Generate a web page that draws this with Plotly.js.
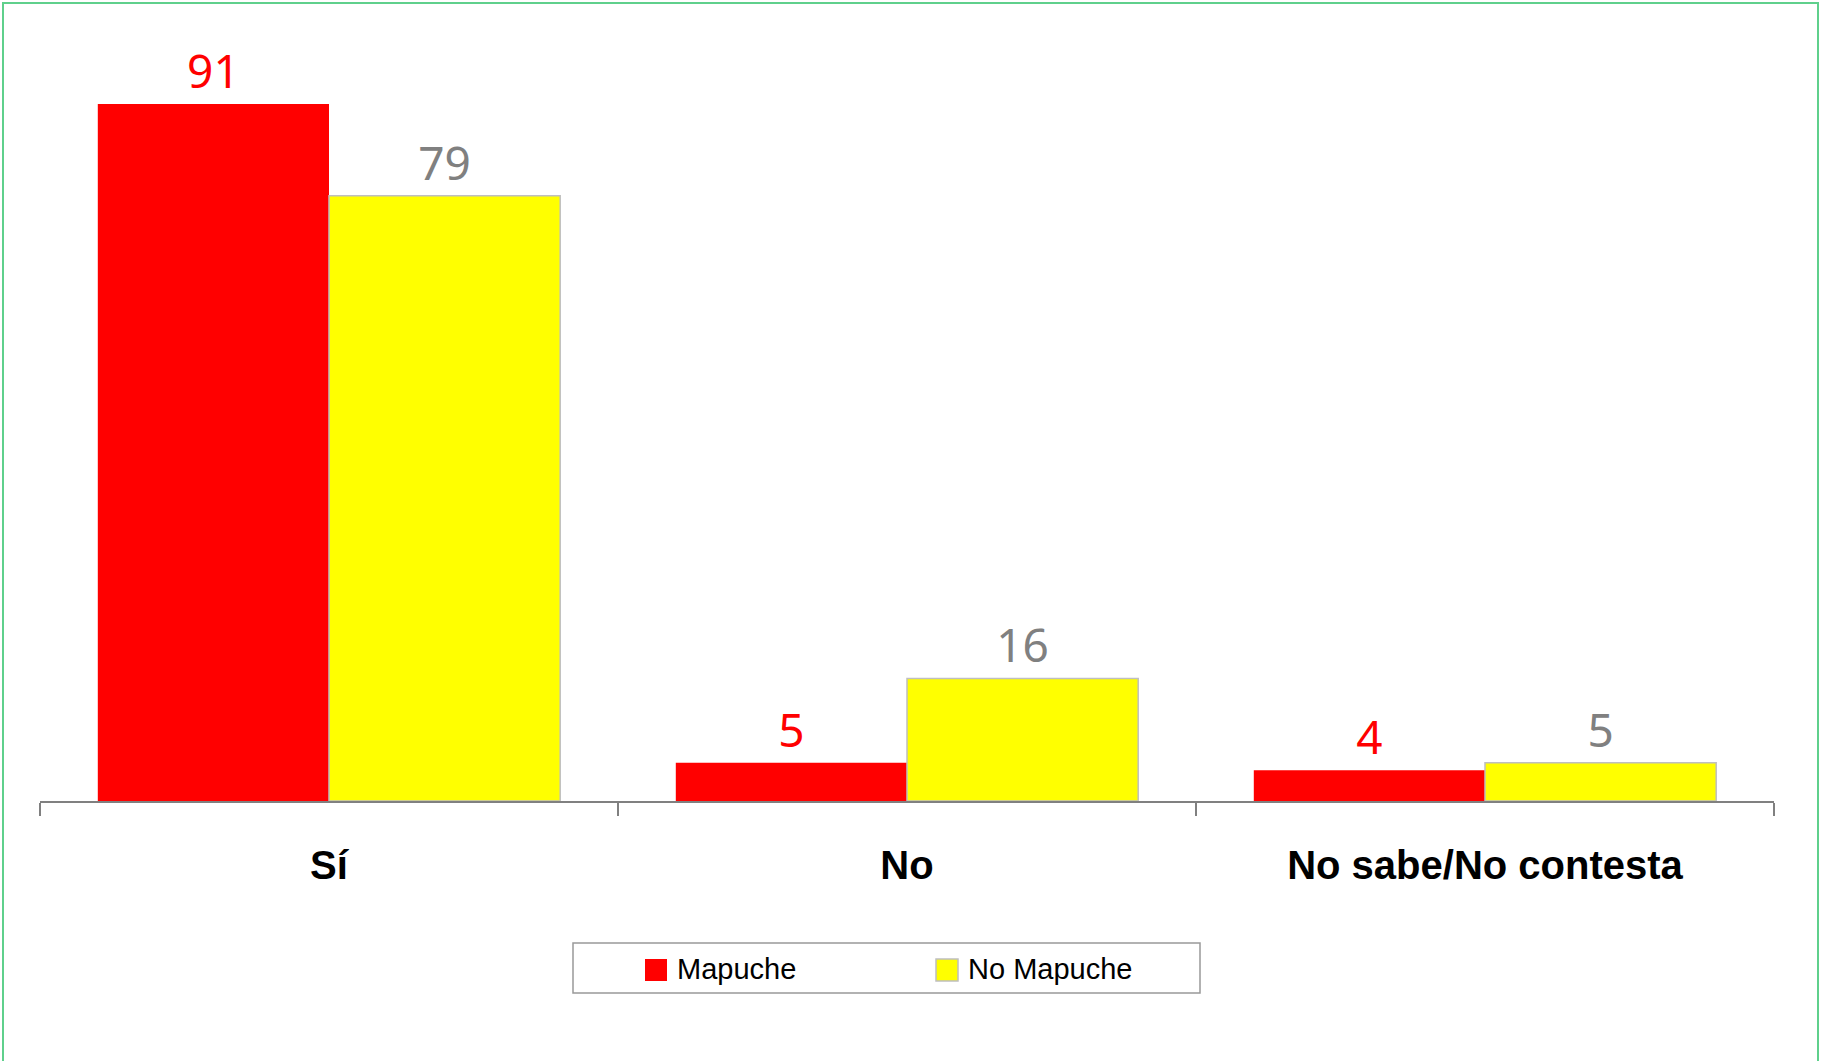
<!DOCTYPE html>
<html>
<head>
<meta charset="utf-8">
<script src="https://cdn.plot.ly/plotly-3.0.1.min.js"></script>
<style>
  html, body { margin: 0; padding: 0; background: #ffffff; }
  #chart { width: 1823px; height: 1061px; }
</style>
</head>
<body>
<div id="chart"></div>
<script>
const categories = ["Sí", "No", "No sabe/No contesta"];
const seriesNames = ["Mapuche", "No Mapuche"];
const mapucheValues = [91, 5, 4];
const noMapucheValues = [79, 16, 5];

const W = 1823, H = 1061;
const margin = {l: 40, r: 49, t: 35, b: 260};
const pw = W - margin.l - margin.r;
const ph = H - margin.t - margin.b;
const px2x = p => (p - margin.l) / pw;
const px2y = p => (H - margin.b - p) / ph;

const seriesColors = ["#ff0000", "#ffff00"];
const seriesLines = ["rgba(0,0,0,0)", "#bfbfbf"];
const labelColors = ["#ff0000", "#808080"];
const seriesValues = [mapucheValues, noMapucheValues];

const traces = seriesValues.map((vals, i) => ({
  type: "bar",
  name: seriesNames[i],
  x: categories,
  y: vals,
  marker: {color: seriesColors[i], line: {width: i === 0 ? 0 : 1.5, color: seriesLines[i]}},
  text: vals.map(String),
  textposition: "outside",
  textfont: {family: "Noto Sans, Open Sans, sans-serif", size: 46, color: labelColors[i]},
  cliponaxis: false,
  showlegend: false,
  hoverinfo: "x+y+name"
}));

// Manual legend (box, swatches, labels) to match the reference proportions
const legendBox = {x0: 573, x1: 1200, y0: 943, y1: 993};
const swatchX = [645, 936];
const swatchSize = 22;
const swatchY0 = 959;
const textX = [675, 966];
const textY = 969;

const shapes = [
  {
    type: "rect", xref: "paper", yref: "paper",
    x0: px2x(3), x1: px2x(1818), y0: px2y(1075), y1: px2y(3),
    line: {color: "#5fd08c", width: 2}, fillcolor: "rgba(0,0,0,0)", layer: "below"
  },
  {
    type: "rect", xref: "paper", yref: "paper",
    x0: px2x(legendBox.x0), x1: px2x(legendBox.x1),
    y0: px2y(legendBox.y1), y1: px2y(legendBox.y0),
    line: {color: "#999999", width: 1.5}, fillcolor: "#ffffff", layer: "above"
  }
];
seriesNames.forEach((n, i) => {
  shapes.push({
    type: "rect", xref: "paper", yref: "paper",
    x0: px2x(swatchX[i]), x1: px2x(swatchX[i] + swatchSize),
    y0: px2y(swatchY0 + swatchSize), y1: px2y(swatchY0),
    line: {color: i === 0 ? seriesColors[i] : "#bfbfbf", width: i === 0 ? 0 : 1.5},
    fillcolor: seriesColors[i], layer: "above"
  });
});

const annotations = seriesNames.map((n, i) => ({
  xref: "paper", yref: "paper",
  x: px2x(textX[i]), y: px2y(textY),
  xanchor: "left", yanchor: "middle",
  text: n, showarrow: false,
  font: {family: "Liberation Sans, Arial, sans-serif", size: 29, color: "#000000"}
}));

const layout = {
  width: W,
  height: H,
  margin: margin,
  paper_bgcolor: "#ffffff",
  plot_bgcolor: "rgba(0,0,0,0)",
  barmode: "group",
  bargap: 0.2,
  bargroupgap: 0,
  showlegend: false,
  xaxis: {
    type: "category",
    range: [-0.5, 2.5],
    showline: true,
    linecolor: "#808080",
    linewidth: 1.5,
    ticks: "outside",
    tickson: "boundaries",
    ticklen: 13,
    tickcolor: "#808080",
    tickwidth: 1.5,
    ticklabelstandoff: 28,
    tickfont: {family: "Liberation Sans, Arial, sans-serif", size: 40, color: "#000000", weight: "bold"},
    showgrid: false,
    zeroline: false,
    fixedrange: true
  },
  yaxis: {
    range: [0, 100],
    visible: false,
    showgrid: false,
    zeroline: false,
    fixedrange: true
  },
  shapes: shapes,
  annotations: annotations
};

Plotly.newPlot("chart", traces, layout, {displayModeBar: false});
</script>
</body>
</html>
